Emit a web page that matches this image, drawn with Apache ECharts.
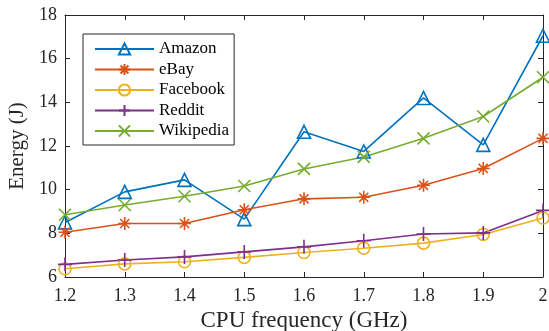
<!DOCTYPE html>
<html>
<head>
<meta charset="utf-8">
<script src="https://cdn.jsdelivr.net/npm/echarts@6/dist/echarts.min.js"></script>
<style>html,body{margin:0;padding:0;background:#fff;}#c{width:549px;height:331px;}</style>
</head>
<body>
<div id="c"></div>
<script>
var categories = ['1.2', '1.3', '1.4', '1.5', '1.6', '1.7', '1.8', '1.9', '2'];
var amazon    = [8.5, 9.9, 10.45, 8.65, 12.65, 11.75, 14.2, 12.05, 17.05];
var ebay      = [8.05, 8.45, 8.45, 9.08, 9.58, 9.65, 10.2, 10.97, 12.35];
var facebook  = [6.38, 6.6, 6.7, 6.9, 7.12, 7.32, 7.55, 7.95, 8.7];
var reddit    = [6.58, 6.78, 6.92, 7.15, 7.38, 7.66, 7.97, 8.02, 9.05];
var wikipedia = [8.85, 9.3, 9.7, 10.17, 10.95, 11.5, 12.35, 13.35, 15.15];
var seriesNames = ['Amazon', 'eBay', 'Facebook', 'Reddit', 'Wikipedia'];

var FONT = '"Liberation Serif", "Times New Roman", serif';
var colors = ['#0072BD', '#D95319', '#EDB120', '#7E2F8E', '#77AC30'];
var symbols = [
  'path://M0,-1L0.95,0.75L-0.95,0.75Z',
  'path://M0,-1L0,1M-1,0L1,0M-0.7,-0.7L0.7,0.7M-0.7,0.7L0.7,-0.7',
  'circle',
  'path://M0,-1L0,1M-1,0L1,0',
  'path://M-1,-1L1,1M-1,1L1,-1'
];
var sizes = [13, 13, 12, 14, 12];
var datas = [amazon, ebay, facebook, reddit, wikipedia];

var series = seriesNames.map(function (n, i) {
  return {
    name: n,
    type: 'line',
    data: datas[i],
    symbol: symbols[i],
    symbolSize: sizes[i],
    showAllSymbol: true,
    lineStyle: { color: colors[i], width: 1.6 },
    itemStyle: { color: 'rgba(255,255,255,0)', borderColor: colors[i], borderWidth: 1.6 },
    emphasis: { disabled: true },
    z: 3
  };
});

var axisLine = { show: true, onZero: false, lineStyle: { color: '#262626', width: 1 } };
var chart = echarts.init(document.getElementById('c'), null, { renderer: 'canvas' });
chart.setOption({
  animation: false,
  backgroundColor: '#fff',
  grid: { left: 65, right: 6, top: 15, bottom: 54, containLabel: false, outerBoundsMode: 'none' },
  legend: {
    orient: 'vertical',
    left: 83,
    top: 34,
    data: seriesNames,
    itemWidth: 59,
    itemHeight: 14,
    itemGap: 3.5,
    padding: [6.5, 5, 5.5, 11],
    borderColor: '#262626',
    borderWidth: 1,
    backgroundColor: '#fff',
    textStyle: { fontFamily: FONT, fontSize: 17, color: '#000', padding: [0, 0, 0, 0] }
  },
  xAxis: [{
    type: 'category',
    data: categories,
    boundaryGap: false,
    position: 'bottom',
    axisLine: axisLine,
    axisTick: { show: true, inside: true, length: 5, lineStyle: { color: '#262626' } },
    axisLabel: { fontFamily: FONT, fontSize: 18, color: '#262626', margin: 10 },
    splitLine: { show: false },
    name: 'CPU frequency (GHz)',
    nameLocation: 'middle',
    nameGap: 32,
    nameTextStyle: { fontFamily: FONT, fontSize: 23, color: '#262626' }
  }, {
    type: 'category',
    data: categories,
    boundaryGap: false,
    position: 'top',
    axisLine: axisLine,
    axisTick: { show: true, inside: true, length: 5, lineStyle: { color: '#262626' } },
    axisLabel: { show: false },
    splitLine: { show: false }
  }],
  yAxis: [{
    type: 'value',
    min: 6, max: 18, interval: 2,
    position: 'left',
    axisLine: axisLine,
    axisTick: { show: true, inside: true, length: 5, lineStyle: { color: '#262626' } },
    axisLabel: { fontFamily: FONT, fontSize: 18, color: '#262626', margin: 8 },
    splitLine: { show: false },
    name: 'Energy (J)',
    nameLocation: 'middle',
    nameGap: 32,
    nameTextStyle: { fontFamily: FONT, fontSize: 21, color: '#262626' }
  }, {
    type: 'value',
    min: 6, max: 18, interval: 2,
    position: 'right',
    axisLine: axisLine,
    axisTick: { show: true, inside: true, length: 5, lineStyle: { color: '#262626' } },
    axisLabel: { show: false },
    splitLine: { show: false }
  }],
  series: series
});
</script>
</body>
</html>
